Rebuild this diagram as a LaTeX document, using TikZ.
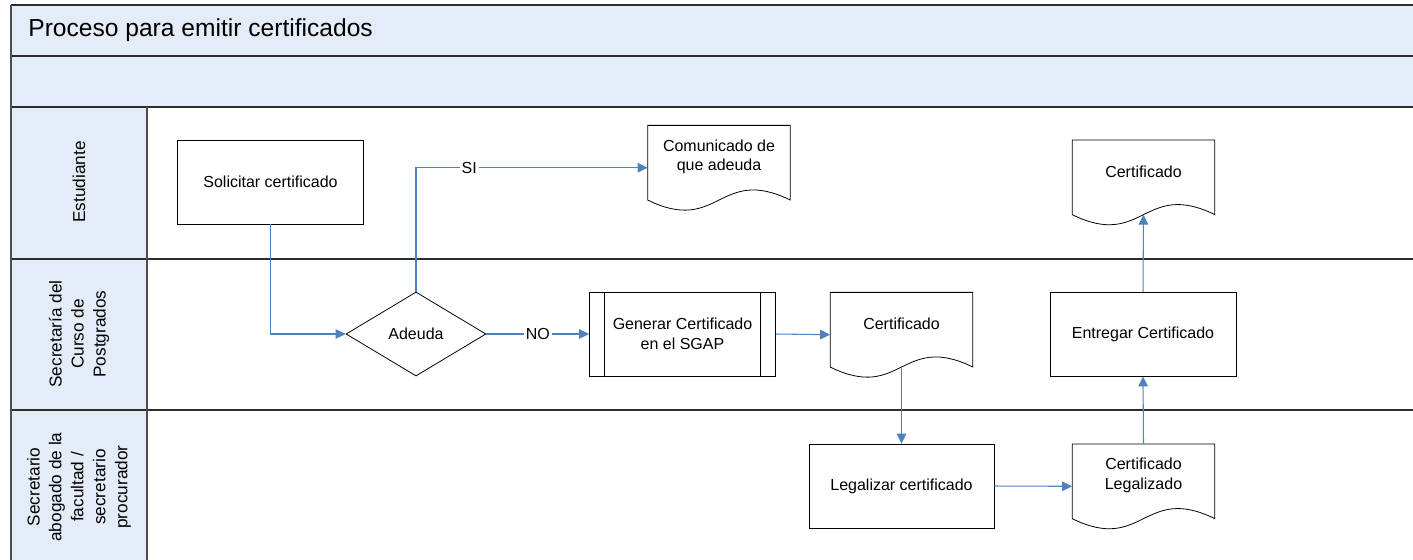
\documentclass[tikz,border=0pt]{standalone}
\usepackage{fontspec}
\setmainfont{Liberation Sans}
\usetikzlibrary{arrows.meta,shapes.geometric,calc}
\definecolor{laneblue}{RGB}{228,236,247}
\definecolor{flowblue}{RGB}{79,129,189}
\definecolor{laneline}{RGB}{45,45,45}
\tikzset{
  laneborder/.style={draw=laneline, line width=1.2pt},
  lanevert/.style={draw=laneline!85, line width=1pt},
  lanelabel/.style={rotate=90, align=center, font=\fontsize{9.8}{12.5}\selectfont},
  bodyfont/.style={font=\fontsize{9.1}{11.2}\selectfont},
  procbox/.style={bodyfont, draw=black, line width=0.45pt, fill=white, minimum width=3.72cm, minimum height=1.68cm, inner sep=0pt, align=center},
  decision/.style={bodyfont, diamond, draw=black, line width=0.45pt, fill=white, minimum width=2.8cm, minimum height=1.68cm, aspect=1.667, inner sep=0pt},
  docnode/.style={minimum width=2.84cm, minimum height=1.68cm, inner sep=0pt},
  doclab/.style={bodyfont, align=center, yshift=0.22cm, inner sep=0pt},
  shapeline/.style={draw=black, line width=0.45pt},
  flow/.style={draw=flowblue, line width=0.6pt, -{Triangle[length=0.2cm,width=0.19cm]}},
  flowlabel/.style={bodyfont, fill=white, inner sep=1pt}
}
\newcommand\docoutline[1]{%
  \draw[shapeline] (#1.north west) -- (#1.north east) -- ([yshift=0.2cm]#1.south east)
    .. controls ([yshift=0.9cm]#1.south) and ([yshift=-0.5cm]#1.south) .. ([yshift=0.2cm]#1.south west) -- cycle;}
\begin{document}
\begin{tikzpicture}[x=0.02cm, y=-0.02cm]
\useasboundingbox (0,0) rectangle (1413,559);
\clip (0,0) rectangle (1413,559);
% lanes
\fill[laneblue] (10.7,5) rectangle (1420,106.7);
\fill[laneblue] (10.7,106.7) rectangle (146.7,570);
\draw[laneborder] (1420,5) -- (10.7,5);
\draw[laneborder] (10.7,56) -- (1420,56);
\draw[laneborder] (10.7,106.7) -- (1420,106.7);
\draw[laneborder] (10.7,259) -- (1420,259);
\draw[laneborder] (10.7,410) -- (1420,410);
\draw[lanevert] (10.7,5) -- (10.7,570);
\draw[lanevert] (146.7,106.7) -- (146.7,570);
\node[anchor=west, font=\fontsize{14}{17}\selectfont, inner sep=0pt] (title) at (28,30) {Proceso para emitir certificados};
\node[lanelabel] (lane1) at (79,182) {Estudiante};
\node[lanelabel] (lane2) at (79,334) {Secretaría del\\Curso de\\Postgrados};
\node[lanelabel] (lane3) at (79,487) {Secretario\\abogado de la\\facultad /\\secretario\\procurador};
% shapes
\node[procbox] (sol) at (270.5,182) {Solicitar certificado};
\node[decision] (ade) at (416,334) {Adeuda};
\node[procbox] (gen) at (682.5,334) {Generar Certificado\\en el SGAP};
\draw[shapeline] ([xshift=0.314cm]gen.north west) -- ([xshift=0.314cm]gen.south west);
\draw[shapeline] ([xshift=-0.314cm]gen.north east) -- ([xshift=-0.314cm]gen.south east);
\node[docnode, label={[doclab]center:Comunicado de\\que adeuda}] (com) at (719,167.7) {};
\docoutline{com}
\node[docnode, label={[doclab]center:Certificado}] (cert2) at (901.5,334.7) {};
\docoutline{cert2}
\node[procbox, minimum width=3.7cm] (leg) at (901.5,486) {Legalizar certificado};
\node[docnode, label={[doclab]center:Certificado\\Legalizado}] (certleg) at (1143.5,486.3) {};
\docoutline{certleg}
\node[procbox] (ent) at (1143,334) {Entregar Certificado};
\node[docnode, label={[doclab]center:Certificado}] (cert3) at (1143.5,182.3) {};
\docoutline{cert3}
% connectors
\draw[flow] (sol.south) |- (ade.west);
\draw[flow] (ade.north) |- node[flowlabel, pos=0.615] {SI} (com.west);
\draw[flow] (ade.east) -- node[flowlabel] {NO} (gen.west);
\draw[flow] (gen.east) -- (cert2.west);
\draw[flow] ([yshift=0.2cm]cert2.south) -- (leg.north);
\draw[flow] (leg.east) -- (certleg.west);
\draw[flow] (certleg.north) -- (ent.south);
\draw[flow] (ent.north) -- ([yshift=0.2cm]cert3.south);
\end{tikzpicture}
\end{document}
